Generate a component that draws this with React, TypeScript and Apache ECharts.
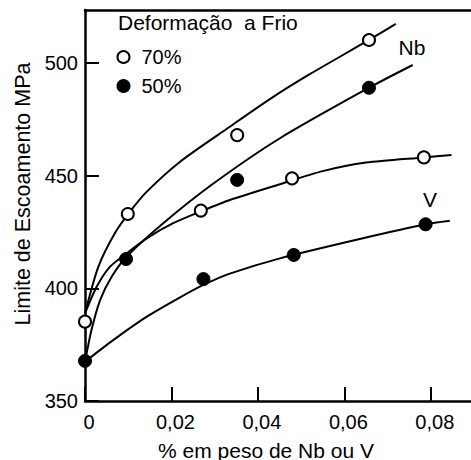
import React, { useEffect, useRef } from "react";
import * as echarts from "echarts";

// Tick labels
const xTicks = [0, 0.02, 0.04, 0.06, 0.08];
const yTicks = [350, 400, 450, 500];

// Measured points (open = 70%, filled = 50% cold deformation)
const pts70: [number, number][] = [
  [0, 385.2], [0.0099, 433.0], [0.0268, 434.5], [0.0352, 468.0],
  [0.0479, 448.8], [0.0657, 510.2], [0.0784, 458.1],
];
const pts50: [number, number][] = [
  [0, 367.8], [0.0095, 413.0], [0.0274, 404.1], [0.0352, 448.1],
  [0.0483, 414.8], [0.0657, 489.0], [0.0788, 428.4],
];

// Fitted curves
const nb70Curve: [number, number][] = [
  [0, 388.9], [0.0031, 409.6], [0.0069, 424.4], [0.0104, 434.0], [0.0143, 442.9],
  [0.022, 456.2], [0.0335, 471.7], [0.0432, 484.5], [0.052, 495.0],
  [0.0657, 510.2], [0.0719, 517.3],
];
const nb50Curve: [number, number][] = [
  [0, 367.4], [0.0015, 381.5], [0.0035, 394.8], [0.0062, 405.2], [0.0096, 414.0],
  [0.0181, 428.9], [0.0297, 446.5], [0.0451, 466.6], [0.0657, 489.0], [0.0758, 499.1],
];
const v70Curve: [number, number][] = [
  [0, 388.9], [0.0027, 400.7], [0.0058, 409.6], [0.0096, 415.5], [0.0143, 422.2],
  [0.0204, 428.9], [0.027, 434.3], [0.0335, 439.2], [0.0451, 446.2],
  [0.055, 452.0], [0.065, 455.8], [0.0784, 458.1], [0.0848, 459.2],
];
const v50Curve: [number, number][] = [
  [0, 367.4], [0.0066, 377.1], [0.0143, 387.4], [0.022, 396.0], [0.0274, 401.5],
  [0.0335, 406.5], [0.0451, 413.3], [0.0643, 422.2], [0.0788, 428.4], [0.0844, 430.0],
];

const FONT = "Liberation Sans, Arial, sans-serif";

export default function App() {
  const ref = useRef<HTMLDivElement>(null);
  useEffect(() => {
    if (!ref.current) return;
    const chart = echarts.init(ref.current, undefined, { renderer: "svg" });
    const curve = (name: string, data: [number, number][]) => ({
      name,
      type: "line",
      data,
      smooth: 0.25,
      showSymbol: false,
      symbol: "none",
      lineStyle: { color: "#000", width: 2 },
      z: 2,
      silent: true,
    });
    chart.setOption({
      animation: false,
      backgroundColor: "#fff",
      textStyle: { fontFamily: FONT, color: "#000" },
      grid: { left: 85, right: 0, top: 10, bottom: 59, containLabel: false },
      legend: {
        data: ["70%", "50%"],
        orient: "vertical",
        left: 116.5,
        top: 47,
        padding: 0,
        itemGap: 9,
        itemWidth: 12,
        itemHeight: 12,
        icon: "circle",
        selectedMode: false,
        textStyle: { fontSize: 20, color: "#000", fontFamily: FONT, lineHeight: 20, padding: [0, 0, 0, 7] },
      },
      xAxis: [
        {
          type: "value",
          min: 0,
          max: 0.0893,
          interval: 0.02,
          axisLine: { show: true, onZero: false, lineStyle: { color: "#000", width: 2.5 } },
          axisTick: { show: true, inside: true, length: 14, lineStyle: { color: "#000", width: 2 } },
          splitLine: { show: false },
          axisLabel: {
            color: "#000",
            fontSize: 20,
            fontFamily: FONT,
            margin: 11,
            padding: [0, 0, 0, 8],
            showMaxLabel: false,
            formatter: (v: number) => {
              const t = xTicks.find((x) => Math.abs(x - v) < 1e-9);
              if (t === undefined) return "";
              return t === 0 ? "0" : t.toFixed(2).replace(".", ",");
            },
          },
        },
        {
          type: "value",
          position: "top",
          min: 0,
          max: 0.0893,
          axisLine: { show: true, onZero: false, lineStyle: { color: "#000", width: 2.5 } },
          axisTick: { show: false },
          axisLabel: { show: false },
          splitLine: { show: false },
        },
      ],
      yAxis: {
        type: "value",
        min: 350,
        max: 523.5,
        interval: 50,
        axisLine: { show: true, onZero: false, lineStyle: { color: "#000", width: 2.5 } },
        axisTick: { show: true, inside: true, length: 14, lineStyle: { color: "#000", width: 2 } },
        splitLine: { show: false },
        axisLabel: {
          color: "#000",
          fontSize: 20,
          fontFamily: FONT,
          margin: 7,
          showMaxLabel: false,
          formatter: (v: number) => (yTicks.includes(v) ? String(v) : ""),
        },
      },
      graphic: [
        {
          type: "text",
          left: 118,
          top: 12,
          style: { text: "Deformação  a Frio", fontSize: 21, fontFamily: FONT, fill: "#000" },
        },
        {
          type: "text",
          x: 412,
          y: 47.5,
          style: { text: "Nb", fontSize: 21, fontFamily: FONT, fill: "#000", align: "center", verticalAlign: "middle" },
        },
        {
          type: "text",
          x: 430,
          y: 199,
          style: { text: "V", fontSize: 21, fontFamily: FONT, fill: "#000", align: "center", verticalAlign: "middle" },
        },
        {
          type: "text",
          x: 266,
          y: 450,
          style: { text: "% em peso de Nb ou V", fontSize: 21, fontFamily: FONT, fill: "#000", align: "center", verticalAlign: "middle" },
        },
        {
          type: "text",
          x: 23,
          y: 194,
          rotation: Math.PI / 2,
          style: { text: "Limite de Escoamento MPa", fontSize: 21.5, fontFamily: FONT, fill: "#000", align: "center", verticalAlign: "middle" },
        },
      ],
      series: [
        curve("Nb 70", nb70Curve),
        curve("Nb 50", nb50Curve),
        curve("V 70", v70Curve),
        curve("V 50", v50Curve),
        {
          name: "70%",
          type: "scatter",
          data: pts70,
          symbol: "circle",
          symbolSize: 12,
          clip: false,
          itemStyle: { color: "#fff", borderColor: "#000", borderWidth: 2, opacity: 1 },
          z: 5,
          silent: true,
        },
        {
          name: "50%",
          type: "scatter",
          data: pts50,
          symbol: "circle",
          symbolSize: 13,
          clip: false,
          itemStyle: { color: "#000", borderColor: "#000", borderWidth: 1, opacity: 1 },
          z: 5,
          silent: true,
        },
      ],
    });
    return () => chart.dispose();
  }, []);
  return (
    <div
      ref={ref}
      style={{ position: "absolute", left: 0, top: 0, width: 471, height: 460, background: "#fff" }}
    />
  );
}
